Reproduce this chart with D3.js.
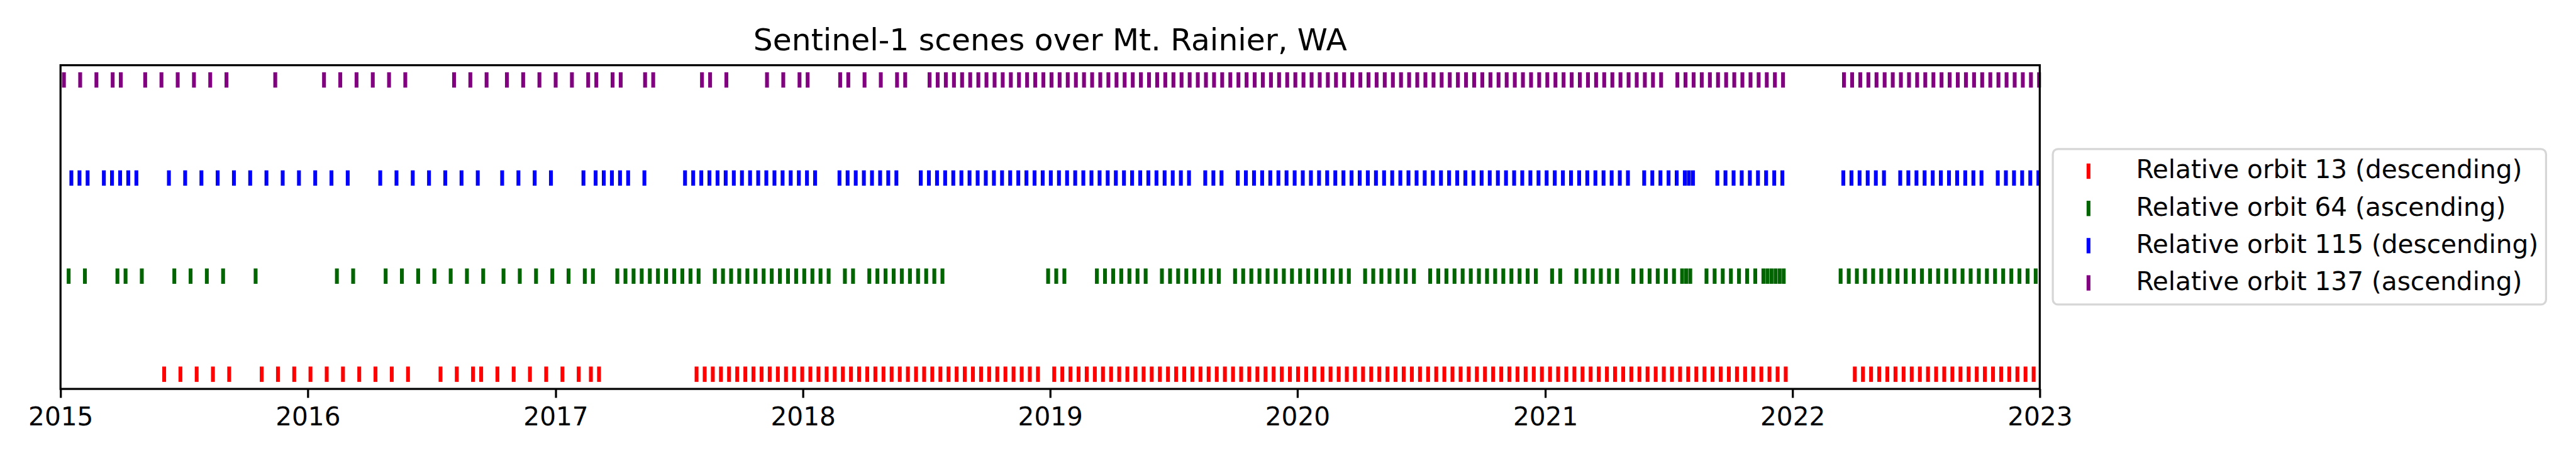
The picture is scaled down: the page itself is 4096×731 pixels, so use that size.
<!DOCTYPE html>
<html>
<head>
<meta charset="utf-8">
<script src="https://cdn.jsdelivr.net/npm/d3@7"></script>
<style>
  html, body { margin: 0; padding: 0; background: #ffffff; }
  svg { display: block; }
</style>
</head>
<body>
<svg id="chart" width="4096" height="731"></svg>
<script>
// ---------------- data ----------------
const chartTitle = "Sentinel-1 scenes over Mt. Rainier, WA";
const orbitLabels = [
  "Relative orbit 13 (descending)",
  "Relative orbit 64 (ascending)",
  "Relative orbit 115 (descending)",
  "Relative orbit 137 (ascending)"
];
const orbitColors = ["red", "darkgreen", "blue", "purple"];
const yearTicks = [2015, 2016, 2017, 2018, 2019, 2020, 2021, 2022, 2023];

// Acquisition dates, as days since 2015-01-01 (UTC)
const orbit13Days = [
  153, 177, 201, 225, 249, 297, 321, 345, 369, 393, 417, 441, 465, 489, 513,
  561, 585, 609, 621, 645, 669, 693, 717, 741, 765, 783, 795,
  939, 951, 963, 975, 987, 999, 1011, 1023, 1035, 1047, 1059, 1071, 1083, 1095,
  1107, 1119, 1131, 1143, 1155, 1167, 1179, 1191, 1203, 1215, 1227, 1239, 1251,
  1263, 1275, 1287, 1299, 1311, 1323, 1335, 1347, 1359, 1371, 1383, 1395, 1407,
  1419, 1431, 1443,
  1467, 1479, 1491, 1503, 1515, 1527, 1539, 1551, 1563, 1575, 1587, 1599, 1611,
  1623, 1635, 1647, 1659, 1671, 1683, 1695, 1707, 1719, 1731, 1743, 1755, 1767,
  1779, 1791, 1803, 1815, 1827, 1839, 1851, 1863, 1875, 1887, 1899, 1911, 1923,
  1935, 1947, 1959, 1971, 1983, 1995, 2007, 2019, 2031, 2043, 2055, 2067, 2079,
  2091, 2103, 2115, 2127, 2139, 2151, 2163, 2175, 2187, 2199, 2211, 2223, 2235,
  2247, 2259, 2271, 2283, 2295, 2307, 2319, 2331, 2343, 2355, 2367, 2379, 2391,
  2403, 2415, 2427, 2439, 2451, 2463, 2475, 2487, 2499, 2511, 2523, 2535, 2547,
  2649, 2661, 2673, 2685, 2697, 2709, 2721, 2733, 2745, 2757, 2769, 2781, 2793,
  2805, 2817, 2829, 2841, 2853, 2865, 2877, 2889, 2901, 2913
];
const orbit64Days = [
  12, 36, 84, 96, 120, 168, 192, 216, 240, 288, 408, 432, 480, 504, 528, 552,
  576, 600, 624, 654, 678, 702, 726, 750, 774, 786,
  822, 834, 846, 858, 870, 882, 894, 906, 918, 930, 942,
  966, 978, 990, 1002, 1014, 1026, 1038, 1050, 1062, 1074, 1086, 1098, 1110,
  1122, 1134, 1158, 1170,
  1194, 1206, 1218, 1230, 1242, 1254, 1266, 1278, 1290, 1302,
  1458, 1470, 1482,
  1530, 1542, 1554, 1566, 1578, 1590, 1602,
  1626, 1638, 1650, 1662, 1674, 1686, 1698, 1710,
  1734, 1746, 1758, 1770, 1782, 1794, 1806, 1818, 1830, 1842, 1854, 1866, 1878,
  1890, 1902,
  1926, 1938, 1950, 1962, 1974, 1986, 1998,
  2022, 2034, 2046, 2058, 2070, 2082, 2094, 2106, 2118, 2130, 2142, 2154, 2166,
  2178, 2202, 2214,
  2238, 2250, 2262, 2274, 2286, 2298,
  2322, 2334, 2346, 2358, 2370, 2382, 2394, 2400, 2406,
  2430, 2442, 2454, 2466, 2478, 2490, 2502, 2514, 2520, 2526, 2532, 2538, 2544,
  2628, 2640, 2652, 2664, 2676, 2688, 2700, 2712, 2724, 2736, 2748, 2760, 2772,
  2784, 2796, 2808, 2820, 2832, 2844, 2856, 2868, 2880, 2892, 2904, 2916
];
const orbit115Days = [
  16, 28, 40, 64, 76, 88, 100, 112, 160, 184, 208, 232, 256, 280, 304, 328, 352,
  376, 400, 424, 472, 496, 520, 544, 568, 592, 616, 652, 676, 700, 724,
  772, 790, 802, 814, 826, 838, 862,
  922, 934, 946, 958, 970, 982, 994, 1006, 1018, 1030, 1042, 1054, 1066, 1078,
  1090, 1102, 1114,
  1150, 1162, 1174, 1186, 1198, 1210, 1222, 1234,
  1270, 1282, 1294, 1306, 1318, 1330, 1342, 1354, 1366, 1378, 1390, 1402, 1414,
  1426, 1438, 1450, 1462, 1474, 1486, 1498, 1510, 1522, 1534, 1546, 1558, 1570,
  1582, 1594, 1606, 1618, 1630, 1642, 1654, 1666,
  1690, 1702, 1714,
  1738, 1750, 1762, 1774, 1786, 1798, 1810, 1822, 1834, 1846, 1858, 1870, 1882,
  1894, 1906, 1918, 1930, 1942, 1954, 1966, 1978, 1990, 2002, 2014, 2026, 2038,
  2050, 2062, 2074, 2086, 2098, 2110, 2122, 2134, 2146, 2158, 2170, 2182, 2194,
  2206, 2218, 2230, 2242, 2254, 2266, 2278, 2290, 2302, 2314,
  2338, 2350, 2362, 2374, 2386, 2398, 2404, 2410,
  2446, 2458, 2470, 2482, 2494, 2506, 2518, 2530, 2542,
  2632, 2644, 2656, 2668, 2680, 2692,
  2716, 2728, 2740, 2752, 2764, 2776, 2788, 2800, 2812, 2824, 2836,
  2860, 2872, 2884, 2896, 2908, 2920
];
const orbit137Days = [
  5, 29, 53, 77, 89, 125, 149, 173, 197, 221, 245, 317, 389, 413, 437, 461, 485,
  509, 581, 605, 629, 659, 683, 707, 731, 755, 779, 791, 815, 827, 863, 875,
  947, 959, 983, 1043, 1067, 1091, 1103, 1151, 1163, 1187, 1211, 1235, 1247,
  1283, 1295, 1307, 1319, 1331, 1343, 1355, 1367, 1379, 1391, 1403, 1415, 1427,
  1439, 1451, 1463, 1475, 1487, 1499, 1511, 1523, 1535, 1547, 1559, 1571, 1583,
  1595, 1607, 1619, 1631, 1643, 1655, 1667, 1679, 1691, 1703, 1715, 1727, 1739,
  1751, 1763, 1775, 1787, 1799, 1811, 1823, 1835, 1847, 1859, 1871, 1883, 1895,
  1907, 1919, 1931, 1943, 1955, 1967, 1979, 1991, 2003, 2015, 2027, 2039, 2051,
  2063, 2075, 2087, 2099, 2111, 2123, 2135, 2147, 2159, 2171, 2183, 2195, 2207,
  2219, 2231, 2243, 2255, 2267, 2279, 2291, 2303, 2315, 2327, 2339, 2351, 2363,
  2387, 2399, 2411, 2423, 2435, 2447, 2459, 2471, 2483, 2495, 2507, 2519, 2531,
  2543,
  2633, 2645, 2657, 2669, 2681, 2693, 2705, 2717, 2729, 2741, 2753, 2765, 2777,
  2789, 2801, 2813, 2825, 2837, 2849, 2861, 2873, 2885, 2897, 2909, 2921
];

// ---------------- drawing ----------------
const S = 0.975;                 // reference (4200x750) -> window (4096x731)
const FONT = "'DejaVu Sans', sans-serif";
const PT = 300 / 72;             // px per point at the reference's 300 dpi

const svg = d3.select("#chart");
svg.append("rect").attr("width", 4096).attr("height", 731).attr("fill", "#ffffff");
const g = svg.append("g").attr("transform", `scale(${S})`);

const frame = { left: 98.7, right: 3326.5, top: 106.3, bottom: 633.9 };
const epoch = Date.UTC(2015, 0, 1);
const dayToDate = d => new Date(epoch + d * 86400000);

const x = d3.scaleUtc()
  .domain([new Date(Date.UTC(2015, 0, 1)), new Date(Date.UTC(2023, 0, 1))])
  .range([frame.left, frame.right]);
const y = d3.scaleLinear().domain([-0.15, 3.15]).range([frame.bottom, frame.top]);

const series = [orbit13Days, orbit64Days, orbit115Days, orbit137Days];
const markH = 6 * PT, markW = 1.5 * PT;

// scene markers
series.forEach((days, i) => {
  g.append("g").attr("class", "orbit-" + i)
    .selectAll("line").data(days).join("line")
    .attr("x1", d => x(dayToDate(d))).attr("x2", d => x(dayToDate(d)))
    .attr("y1", y(i) - markH / 2).attr("y2", y(i) + markH / 2)
    .attr("stroke", orbitColors[i])
    .attr("stroke-width", markW)
    .attr("stroke-linecap", "butt");
});

// x axis
const xAxis = d3.axisBottom(x)
  .tickValues(yearTicks.map(yr => new Date(Date.UTC(yr, 0, 1))))
  .tickFormat(d3.utcFormat("%Y"))
  .tickSize(3.5 * PT)
  .tickPadding(14.9);
const ax = g.append("g").attr("transform", `translate(0,${frame.bottom})`).call(xAxis);
ax.select(".domain").remove();
ax.selectAll(".tick line").attr("stroke", "#000").attr("stroke-width", 0.8 * PT);
ax.selectAll(".tick text")
  .attr("fill", "#000")
  .style("font-family", FONT)
  .style("font-size", (10 * PT) + "px");

// frame
g.append("rect")
  .attr("x", frame.left).attr("y", frame.top)
  .attr("width", frame.right - frame.left).attr("height", frame.bottom - frame.top)
  .attr("fill", "none").attr("stroke", "#000").attr("stroke-width", 0.8 * PT);

// title
g.append("text")
  .attr("x", (frame.left + frame.right) / 2).attr("y", 81.7)
  .attr("text-anchor", "middle")
  .style("font-family", FONT).style("font-size", (12 * PT) + "px")
  .attr("fill", "#000")
  .text(chartTitle);

// legend
const leg = g.append("g");
leg.append("rect")
  .attr("x", 3347.8).attr("y", 242.9).attr("width", 804.4).attr("height", 253.5)
  .attr("rx", 8.3).attr("ry", 8.3)
  .attr("fill", "#ffffff").attr("fill-opacity", 0.8)
  .attr("stroke", "#d6d6d6").attr("stroke-width", 0.8 * PT);
const legRow = d3.scaleLinear().domain([0, 3]).range([279.0, 461.1]);
orbitLabels.forEach((lab, i) => {
  const cy = legRow(i);
  leg.append("line")
    .attr("x1", 3406).attr("x2", 3406)
    .attr("y1", cy - markH / 2).attr("y2", cy + markH / 2)
    .attr("stroke", orbitColors[i]).attr("stroke-width", markW);
  leg.append("text")
    .attr("x", 3483.5).attr("y", cy + 11.6)
    .style("font-family", FONT).style("font-size", (10 * PT) + "px")
    .attr("fill", "#000")
    .text(lab);
});
</script>
</body>
</html>
